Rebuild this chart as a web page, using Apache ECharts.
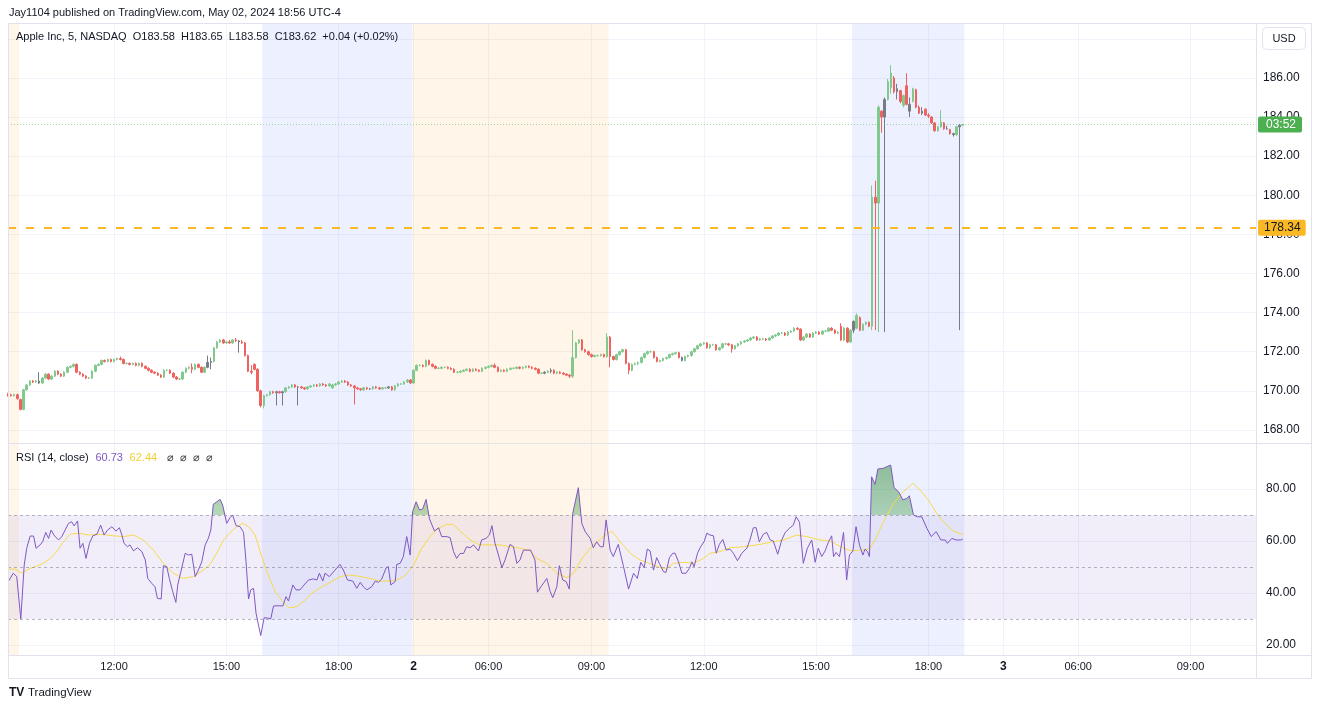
<!DOCTYPE html>
<html><head><meta charset="utf-8">
<script src="https://cdn.jsdelivr.net/npm/echarts@6/dist/echarts.min.js"></script>
<style>html,body{margin:0;padding:0;background:#fff;}#c{width:1320px;height:708px;}</style>
</head><body><div id="c"></div>
<script>
// ---- data (5-minute bars, index-based time axis) ----
// candle rows: [open, close, low, high]
const candles = [
[169.85,169.8,169.7,169.9],[169.8,169.75,169.7,169.85],[169.75,169.8,169.7,169.85],[169.8,169.6,169.55,169.85],[169.55,169.05,169.0,169.6],
[169.05,170.05,169.0,170.1],[170.05,170.3,170.0,170.35],[170.3,170.5,170.25,170.55],[170.5,170.45,170.4,170.55],[170.45,170.5,170.4,170.55],
[170.5,170.4,170.35,170.95],[170.4,170.65,170.35,170.7],[170.65,170.85,170.6,170.9],[170.85,170.6,170.55,170.9],[170.6,170.75,170.55,170.8],
[170.75,171.0,170.7,171.05],[171.0,170.85,170.8,171.05],[170.85,170.75,170.7,170.9],[170.75,170.95,170.7,171.0],[170.95,171.2,170.9,171.25],
[171.2,171.25,171.15,171.3],[171.25,171.35,171.2,171.4],[171.35,170.95,170.9,171.4],[170.95,170.85,170.8,171.0],[170.85,170.75,170.7,170.9],
[170.75,170.65,170.6,170.8],[170.65,170.65,170.6,170.7],[170.65,171.0,170.6,171.05],[171.0,171.3,170.95,171.35],[171.3,171.35,171.25,171.4],
[171.35,171.55,171.3,171.6],[171.55,171.5,171.45,171.6],[171.5,171.6,171.45,171.65],[171.6,171.5,171.45,171.65],[171.5,171.6,171.45,171.65],
[171.6,171.65,171.55,171.7],[171.65,171.6,171.55,171.75],[171.6,171.4,171.35,171.65],[171.4,171.4,171.35,171.45],[171.4,171.35,171.3,171.45],
[171.35,171.4,171.3,171.45],[171.4,171.3,171.25,171.45],[171.3,171.4,171.25,171.45],[171.4,171.25,171.2,171.45],[171.25,171.15,171.1,171.3],
[171.15,171.05,171.0,171.2],[171.05,170.95,170.9,171.1],[170.95,170.9,170.85,171.0],[170.9,170.8,170.75,170.95],[170.8,170.7,170.65,170.85],
[170.7,171.05,170.65,171.1],[171.05,171.05,171.0,171.1],[171.05,170.9,170.85,171.1],[170.9,170.7,170.65,170.95],[170.7,170.6,170.55,170.75],
[170.6,170.6,170.55,170.65],[170.6,170.95,170.55,171.0],[170.95,171.15,170.9,171.2],[171.15,171.2,171.1,171.25],[171.2,171.1,170.9,171.4],
[171.1,171.35,171.05,171.4],[171.35,171.2,171.15,171.4],[171.2,170.95,170.9,171.25],[170.95,171.2,170.9,171.25],[171.2,171.45,171.15,171.8],
[171.45,171.5,171.1,171.7],[171.5,172.2,171.45,172.25],[172.2,172.5,172.15,172.55],[172.5,172.6,172.45,172.65],[172.6,172.45,172.4,172.65],
[172.45,172.5,172.4,172.55],[172.5,172.45,172.4,172.6],[172.45,172.6,172.4,172.65],[172.6,172.55,172.5,172.7],[172.55,172.5,171.95,172.6],
[172.5,172.45,172.4,172.6],[172.45,171.8,171.75,172.5],[171.8,171.0,170.95,171.85],[171.0,170.95,170.85,171.3],[171.35,171.1,171.05,171.4],
[171.1,170.0,169.95,171.15],[170.0,169.25,169.15,170.05],[169.25,169.75,169.1,169.8],[169.75,169.8,169.7,169.85],[169.8,169.95,169.75,170.0],
[169.95,169.9,169.85,170.0],[169.9,169.95,169.25,170.0],[169.95,169.9,169.85,170.0],[169.9,169.95,169.25,170.0],[169.95,170.15,169.9,170.2],
[170.15,170.2,170.1,170.25],[170.2,170.3,170.15,170.35],[170.3,170.2,170.15,170.35],[170.2,170.2,169.25,170.25],[170.2,170.15,170.1,170.25],
[170.15,170.1,170.05,170.2],[170.1,170.2,170.05,170.25],[170.2,170.25,170.15,170.3],[170.25,170.3,170.2,170.35],[170.3,170.25,170.2,170.35],
[170.25,170.35,170.2,170.4],[170.35,170.3,170.25,170.4],[170.3,170.25,170.2,170.35],[170.25,170.35,170.2,170.4],[170.15,170.3,170.1,170.35],
[170.3,170.35,170.25,170.4],[170.35,170.45,170.3,170.5],[170.45,170.5,170.4,170.55],[170.5,170.45,170.4,170.55],[170.45,170.3,170.25,170.5],
[170.3,170.25,170.2,170.35],[170.25,170.15,169.3,170.3],[170.15,170.1,170.05,170.2],[170.1,170.05,170.0,170.15],[170.05,170.15,170.0,170.2],
[170.15,170.1,170.05,170.2],[170.1,170.1,170.05,170.15],[170.1,170.2,170.05,170.25],[170.2,170.15,170.1,170.25],[170.15,170.1,170.05,170.2],
[170.1,170.15,170.05,170.2],[170.15,170.15,170.1,170.2],[170.15,170.2,170.1,170.25],[170.2,170.05,170.0,170.25],[170.05,170.25,170.0,170.3],
[170.25,170.35,170.2,170.4],[170.35,170.35,170.3,170.4],[170.35,170.45,170.3,170.5],[170.45,170.55,170.4,170.6],[170.55,170.4,170.35,170.6],
[170.4,171.05,170.35,171.1],[171.05,171.3,171.0,171.35],[171.3,171.3,171.25,171.35],[171.3,171.25,171.2,171.35],[171.25,171.55,171.2,171.6],
[171.55,171.35,171.3,171.6],[171.35,171.25,171.2,171.4],[171.25,171.15,171.1,171.3],[171.15,171.15,171.1,171.2],[171.15,171.2,171.1,171.25],
[171.2,171.2,171.15,171.25],[171.2,171.15,171.1,171.25],[171.15,171.1,171.05,171.2],[171.1,170.95,170.9,171.15],[170.95,170.95,170.9,171.0],
[170.95,171.0,170.9,171.05],[171.0,171.05,170.95,171.1],[171.05,171.1,171.0,171.15],[171.1,171.0,170.95,171.15],[171.0,171.1,170.95,171.15],
[171.1,171.05,171.0,171.15],[171.05,171.0,170.95,171.1],[171.0,171.15,170.95,171.2],[171.15,171.2,171.1,171.25],[171.2,171.25,171.15,171.3],
[171.25,171.3,171.2,171.35],[171.3,171.2,171.15,171.4],[171.2,171.0,170.95,171.25],[171.0,171.05,170.95,171.1],[171.05,171.0,170.95,171.1],
[171.0,171.1,170.95,171.15],[171.1,171.15,171.05,171.2],[171.15,171.15,171.1,171.2],[171.15,171.2,171.1,171.25],[171.2,171.15,171.1,171.25],
[171.15,171.2,171.1,171.25],[171.2,171.25,171.15,171.3],[171.25,171.2,171.15,171.3],[171.2,171.15,171.1,171.25],[171.15,171.1,171.05,171.2],
[171.1,170.9,170.85,171.15],[170.9,170.9,170.85,170.95],[170.9,170.95,170.85,171.0],[170.95,171.0,170.9,171.05],[171.0,171.05,170.9,171.15],
[171.05,170.9,170.85,171.1],[170.9,170.95,170.85,171.0],[170.95,170.9,170.85,171.0],[170.9,170.85,170.8,170.95],[170.85,170.8,170.75,170.9],
[170.8,170.75,170.65,170.85],[170.75,171.7,170.65,173.1],[171.7,172.45,171.65,172.5],[172.45,172.6,172.4,172.65],[172.6,172.1,172.05,172.65],
[172.1,172.0,171.95,172.15],[172.0,171.85,171.8,172.05],[171.85,171.75,171.7,171.9],[171.75,171.8,171.7,171.85],[171.8,171.8,171.75,171.85],
[171.8,171.85,171.75,171.9],[171.85,171.75,171.7,171.9],[171.75,172.75,171.7,172.95],[172.75,171.75,171.2,172.8],[171.75,171.6,171.55,171.8],
[171.6,171.85,171.55,171.9],[171.85,172.0,171.8,172.05],[172.0,172.1,171.95,172.15],[172.1,171.4,171.35,172.15],[171.4,171.05,170.85,171.45],
[171.05,171.35,171.0,171.4],[171.35,171.4,171.3,171.45],[171.4,171.45,171.3,171.5],[171.45,171.7,171.4,171.75],[171.7,171.9,171.65,171.95],
[171.9,172.0,171.85,172.05],[172.0,172.0,171.95,172.05],[172.0,171.7,171.65,172.05],[171.7,171.5,171.45,171.75],[171.5,171.55,171.45,171.6],
[171.55,171.65,171.5,171.7],[171.65,171.7,171.6,171.75],[171.7,171.85,171.65,171.9],[171.85,171.9,171.8,171.95],[171.9,171.95,171.85,172.0],
[171.95,171.7,171.65,172.0],[171.7,171.55,171.5,171.75],[171.55,171.75,171.5,171.8],[171.75,171.8,171.7,171.85],[171.8,172.0,171.75,172.05],
[172.0,172.15,171.95,172.2],[172.15,172.3,172.1,172.35],[172.3,172.4,172.25,172.45],[172.4,172.45,172.35,172.5],[172.45,172.2,172.15,172.5],
[172.2,172.35,172.15,172.4],[172.35,172.35,172.3,172.4],[172.35,172.1,172.05,172.4],[172.1,172.2,172.05,172.25],[172.2,172.4,172.15,172.45],
[172.4,172.4,172.35,172.45],[172.4,172.35,172.3,172.45],[172.35,172.15,171.95,172.4],[172.15,172.3,172.1,172.35],[172.3,172.4,172.25,172.45],
[172.4,172.5,172.35,172.55],[172.5,172.55,172.45,172.6],[172.55,172.6,172.5,172.65],[172.6,172.7,172.55,172.75],[172.7,172.75,172.65,172.8],
[172.75,172.6,172.55,172.8],[172.6,172.65,172.55,172.7],[172.65,172.65,172.6,172.7],[172.65,172.6,172.55,172.7],[172.6,172.7,172.55,172.75],
[172.7,172.8,172.65,172.85],[172.8,172.85,172.75,172.9],[172.85,172.95,172.8,173.0],[172.95,172.95,172.9,173.0],[172.95,172.85,172.8,173.0],
[172.85,173.0,172.8,173.05],[173.0,173.05,172.95,173.1],[173.05,173.2,173.0,173.25],[173.2,173.15,173.1,173.25],[173.15,172.6,172.55,173.2],
[172.6,172.75,172.55,172.8],[172.75,172.9,172.7,172.95],[172.9,172.75,172.7,172.95],[172.75,172.95,172.7,173.0],[172.95,173.0,172.9,173.05],
[173.0,172.9,172.85,173.05],[172.9,173.05,172.85,173.1],[173.05,173.05,173.0,173.1],[173.05,173.2,173.0,173.25],[173.2,173.1,173.05,173.25],
[173.1,172.95,172.9,173.15],[172.95,173.0,172.9,173.05],[173.3,172.6,172.55,173.45],[172.6,173.2,172.55,173.25],[173.2,172.5,172.45,173.25],
[172.5,173.1,172.45,173.15],[173.1,173.55,172.95,173.6],[173.2,173.85,173.15,173.96],[173.75,173.1,173.05,173.8],[173.1,173.4,173.05,173.45],
[173.4,173.5,173.35,173.55],[173.5,173.3,173.25,173.55],[173.3,179.9,173.1,180.5],[179.9,179.6,173.1,180.75],[179.6,184.5,173.0,184.6],
[184.3,184.0,183.2,184.35],[184.0,184.9,173.0,185.0],[184.9,185.8,184.85,185.95],[185.5,186.25,185.2,186.65],[186.0,185.3,185.2,186.1],
[185.3,185.45,184.9,185.7],[185.35,184.8,184.7,185.4],[184.6,185.1,184.5,185.15],[185.6,184.65,184.6,186.24],[184.65,184.3,184.0,185.0],
[184.8,185.45,184.75,185.5],[185.4,184.5,184.45,185.45],[184.5,184.2,184.15,184.6],[184.2,184.3,184.1,184.5],[184.4,184.1,184.05,184.45],
[184.1,184.05,183.95,184.2],[184.0,183.7,183.65,184.05],[183.7,183.3,183.25,183.75],[183.3,183.5,183.25,183.55],[183.5,183.75,183.45,184.35],
[183.7,183.4,183.35,183.75],[183.4,183.4,183.35,183.55],[183.35,183.15,183.1,183.4],[183.15,183.1,183.0,183.2],[183.1,183.5,183.05,183.55],
[183.5,183.58,173.1,183.65],[183.58,183.62,183.58,183.65]
];
const grayBars = [10,64,65,74,86,88,93,116,122,172,174,216,271,281,285,289,293,301,303,305];

// RSI(14) readings: [bar index, value]
const rsiPoints = [
[0.1,44.4],[1.7,47.6],[2.8,46.3],[4.1,30.0],[5.2,50.8],[6,57.2],[7.1,61.9],[8.2,61.9],[9,57.2],[10.3,58.5],[11.1,59.7],[12.1,63.3],[13,61.0],[13.8,64.2],[14.9,62.0],[16.2,60.4],[17.2,61.6],[18.3,64.2],[19.4,66.8],[20.4,67.4],[21.2,65.8],[22.3,67.7],[23.1,57.2],[24,59.1],[25,53.3],[26.1,59.1],[27.2,62.0],[28.5,62.6],[29.7,66.1],[30.8,62.3],[31.9,64.2],[33.3,65.5],[34.6,63.8],[35.7,65.1],[36.5,62.3],[37.2,59.1],[38.3,57.8],[39.1,58.5],[40.2,56.2],[41.5,57.4],[42.9,55.9],[44,52.7],[44.8,45.6],[46.1,43.7],[47.1,42.4],[47.9,37.9],[49.1,37.7],[49.8,50.5],[50.9,50.1],[51.7,45.6],[52.8,40.5],[53.8,36.4],[54.4,43.1],[55.4,48.2],[56.8,55.3],[57.8,54.6],[58.9,54.9],[60,46.3],[61,48.8],[62.1,52.0],[63.2,58.5],[64.2,61.0],[65,64.2],[65.8,74.1],[66.7,74.9],[68,76.0],[68.8,73.8],[70.1,66.8],[71.2,69.0],[72,70.0],[73.1,65.9],[74.4,65.5],[75.5,63.3],[76.3,52.0],[77.1,37.7],[77.8,41.2],[78.7,41.8],[79.5,32.2],[81,23.6],[82.1,30.5],[83.5,30.3],[84.2,30.0],[85.1,35.0],[86.7,35.1],[88.1,35.0],[89.1,38.6],[89.9,36.9],[91.3,43.1],[92.3,41.2],[93.6,41.2],[94.9,43.1],[96.3,45.0],[97.9,45.4],[99,45.0],[99.8,47.6],[100.9,44.6],[101.6,47.6],[103,46.3],[104.8,48.8],[106.4,51.0],[107.5,48.8],[108.8,45.0],[110.5,44.6],[111.8,41.8],[112.9,44.1],[113.9,42.4],[115,41.2],[116.6,42.4],[117.7,44.6],[118.7,44.1],[119.8,45.4],[121.2,49.7],[121.9,50.1],[122.7,43.1],[124.1,44.4],[124.6,51.0],[125.7,51.4],[126.7,54.0],[127.8,61.7],[128.9,54.6],[129.7,71.3],[130.8,75.1],[131.9,71.9],[132.9,72.3],[134,76.0],[135.1,68.5],[136.7,63.8],[138,65.1],[139,61.7],[140.6,61.7],[141.7,61.3],[142.8,55.9],[143.8,53.3],[144.9,55.2],[146,55.2],[147,57.8],[148.1,57.4],[149.2,58.5],[150.8,56.2],[151.8,60.4],[153.2,61.0],[154.3,62.3],[155.1,65.9],[156.1,59.1],[157.2,54.6],[158.3,49.7],[159.3,52.7],[160.9,58.7],[162,57.8],[163.1,51.4],[164.1,52.7],[165.2,56.5],[166.3,56.5],[167.5,56.5],[168.9,52.7],[169.7,40.3],[170.8,42.4],[172.7,45.6],[173.8,40.5],[174.6,38.2],[175.9,42.4],[176.7,50.5],[177.8,45.0],[178.9,44.4],[179.9,41.5],[181,70.6],[182.8,80.5],[183.9,66.8],[185,63.6],[186.6,61.0],[187.6,57.4],[188.7,59.7],[189.8,57.8],[190.8,57.8],[191.7,68.1],[193,56.5],[194,54.0],[195.6,58.7],[197.3,50.1],[198.9,41.5],[200.5,47.6],[201.7,45.6],[202.8,51.8],[203.9,49.7],[204.9,56.9],[205.8,56.2],[206.9,48.8],[207.9,53.6],[209,50.8],[210.1,48.2],[210.9,47.9],[212,53.6],[213.1,55.3],[213.8,55.3],[214.9,52.0],[216,47.6],[217.3,47.6],[218.4,49.5],[219.2,52.0],[219.9,50.1],[221,55.3],[222,57.8],[223.1,59.7],[224,63.0],[225,62.3],[226.1,62.0],[227,55.3],[228,58.7],[229.1,60.6],[230.2,56.5],[231.4,56.9],[232.5,55.3],[233.8,52.4],[235.2,55.3],[236.8,57.2],[237.8,60.4],[238.9,65.1],[239.8,65.1],[240.8,59.7],[242.1,62.6],[243.2,63.3],[244.3,60.4],[245.3,60.0],[246.7,54.9],[248,60.4],[249.1,63.3],[250.5,64.9],[251.7,66.1],[252.6,69.3],[253.7,67.2],[254.9,51.4],[256.2,57.2],[257.6,60.4],[258.7,51.8],[259.7,57.2],[260.8,54.0],[261.9,56.2],[263,59.7],[264,62.0],[264.6,54.0],[265.4,55.6],[266.5,54.0],[267.8,63.3],[268.8,45.0],[269.7,54.6],[270.8,56.2],[271.8,65.5],[272.9,58.5],[274,54.6],[274.7,56.9],[275.5,55.9],[276.1,54.0],[276.8,84.7],[277.9,81.8],[278.8,87.7],[280.4,87.9],[281.7,88.6],[282.9,89.2],[284,80.5],[285.4,79.0],[286.8,75.8],[288.1,76.4],[288.9,77.4],[290.2,70.0],[291.5,69.3],[292.9,69.3],[294.5,64.9],[295.9,61.7],[297.5,63.6],[299,60.4],[300.4,60.4],[301.1,59.1],[302.5,61.0],[303.9,60.4],[305.4,60.4],[306,60.73]
];
// RSI-based moving average readings: [bar index, value]
const rsiMaPoints = [
[0.1,49.2],[2.3,49.2],[4.4,47.6],[7.1,49.5],[10.3,50.8],[13,52.7],[15.6,55.9],[17.8,59.7],[19.9,62.6],[22.6,63.0],[25.8,62.3],[29.5,62.6],[33.8,62.0],[37,61.7],[40.2,62.3],[43.4,60.4],[46.6,56.5],[49.8,51.4],[53,47.6],[56.2,45.6],[59.4,46.3],[62.6,48.8],[64.8,51.0],[66.9,55.3],[69.1,60.4],[71.2,63.3],[73.3,65.5],[75.2,66.8],[77.1,65.5],[79.2,62.3],[80.8,55.9],[83,48.2],[85.6,40.5],[87.7,37.3],[89.9,34.3],[92.6,34.7],[94.7,36.7],[97.4,39.9],[100.6,42.4],[103.8,44.4],[106.4,46.3],[109.1,46.9],[112.3,46.5],[116.1,45.6],[119.3,44.6],[122.5,44.6],[124.6,45.0],[127.3,46.7],[130,50.8],[132.6,57.2],[135.3,61.7],[137.4,64.4],[140.6,66.4],[142.8,66.4],[144.9,63.8],[148.1,60.4],[151.3,58.5],[154.5,58.5],[157.7,58.5],[160.9,57.8],[164.1,57.2],[167.3,56.2],[169.5,53.3],[172.7,51.4],[175.9,47.6],[179.1,45.9],[181.2,47.6],[184.4,54.0],[187.6,58.5],[190.8,61.7],[193.5,63.8],[196.2,59.7],[199.4,55.3],[202.6,52.7],[206.9,50.8],[210.6,49.2],[213.3,51.4],[216.5,51.8],[219.7,51.4],[222.9,53.3],[225,55.3],[228.2,55.9],[231.4,57.4],[235.7,57.8],[240,58.5],[244.3,59.5],[248.5,60.4],[252.8,62.3],[256,61.7],[260.3,60.4],[263.5,60.0],[267.8,57.2],[270.4,56.2],[273.6,56.5],[276.1,56.9],[277.9,60.4],[280.6,67.4],[283.8,74.5],[287,79.0],[290,82.2],[292.3,79.6],[295,75.8],[297.7,70.6],[300.3,66.8],[303,63.8],[306,62.44]
];

const timeTicks = [[34,'12:00'],[70,'15:00'],[106,'18:00'],[130,'2'],[154,'06:00'],[187,'09:00'],[223,'12:00'],[259,'15:00'],[295,'18:00'],[319,'3'],[343,'06:00'],[379,'09:00']];
const priceTicks = [168,170,172,174,176,178,180,182,184,186,188];
const priceLabels = [168,170,172,174,176,178,180,182,184,186];
const rsiTicks = [20,40,60,80];
const rsiLevels = [70,50,30];
const preMarket = [[0,3.5],[129.5,192.5]];
const postMarket = [[81.5,129.5],[270.5,306.5]];
const alertPrice = 178.34;
const lastPrice = 183.62;
const barCount = 401;

// ---- chart ----
const FONT = '"Liberation Sans", Arial, sans-serif';
const TXT = '#131722';
const GRIDC = '#f0f3fa';
const FRAME = '#e0e3eb';
const GRAY = '#787b86';
const UP = '#82c98e', DOWN = '#f0625f';
const categories = Array.from({length: barCount}, (_, i) => String(i));
const tickMap = new Map(timeTicks);
const graySet = new Set(grayBars);
const candleData = candles.map((c, i) => graySet.has(i)
  ? {value: c, itemStyle: {color: GRAY, color0: GRAY, borderColor: GRAY, borderColor0: GRAY}} : c);

const shadeAreas = [
  ...preMarket.map(([a, b]) => [{xAxis: a, itemStyle: {color: 'rgba(255,152,0,0.085)'}}, {xAxis: b}]),
  ...postMarket.map(([a, b]) => [{xAxis: a, itemStyle: {color: 'rgba(41,98,255,0.085)'}}, {xAxis: b}])
];

const catAxis = (grid, labels) => ({
  type: 'category', gridIndex: grid, data: categories, boundaryGap: false,
  axisLine: {show: false}, axisTick: {show: false},
  axisLabel: labels ? {
    interval: (i) => tickMap.has(i), margin: 6, color: TXT, fontSize: 11, fontFamily: FONT,
    formatter: (v) => { const t = tickMap.get(Number(v)) || ''; return /^\d$/.test(t) ? '{b|' + t + '}' : t; },
    rich: {b: {fontWeight: 'bold', color: TXT, fontSize: 12, fontFamily: FONT}}
  } : {show: false},
  splitLine: {show: true, interval: (i) => tickMap.has(i), lineStyle: {color: GRIDC, width: 1}}
});
const valAxis = (grid) => ({type: 'value', gridIndex: grid, min: 0, max: barCount - 1, show: false});

const option = {
  animation: false,
  textStyle: {fontFamily: FONT},
  grid: [
    {left: 8, right: 64, top: 23, height: 420},
    {left: 8, right: 64, top: 444, height: 211},
    {left: 8, right: 64, top: 444, height: 71}
  ],
  xAxis: [catAxis(0, false), valAxis(0), catAxis(1, true), valAxis(1), valAxis(2)],
  yAxis: [
    {type: 'value', gridIndex: 0, position: 'right', min: 167.33, max: 188.81, scale: true,
      axisLine: {show: false}, axisTick: {show: false, customValues: priceTicks},
      axisLabel: {customValues: priceLabels, formatter: (v) => v.toFixed(2), color: TXT, fontSize: 12, margin: 7, fontFamily: FONT},
      splitLine: {show: true, lineStyle: {color: GRIDC}}},
    {type: 'value', gridIndex: 1, position: 'right', min: 16.15, max: 97.31,
      axisLine: {show: false}, axisTick: {show: false, customValues: rsiTicks},
      axisLabel: {customValues: rsiTicks, formatter: (v) => v.toFixed(2), color: TXT, fontSize: 12, margin: 10, fontFamily: FONT},
      splitLine: {show: true, lineStyle: {color: GRIDC}}},
    {type: 'value', gridIndex: 2, min: 70, max: 97.31, show: false}
  ],
  series: [
    {type: 'line', xAxisIndex: 1, yAxisIndex: 0, data: [], silent: true, z: 0,
      markArea: {silent: true, data: shadeAreas}},
    {type: 'line', xAxisIndex: 3, yAxisIndex: 1, data: [], silent: true, z: 0,
      markArea: {silent: true, data: shadeAreas}},
    {type: 'line', xAxisIndex: 3, yAxisIndex: 1, data: [], silent: true, z: 1,
      markArea: {silent: true, itemStyle: {color: 'rgba(126,87,194,0.1)'}, data: [[{yAxis: 30}, {yAxis: 70}]]},
      markLine: {silent: true, symbol: ['none', 'none'], label: {show: false},
        lineStyle: {color: 'rgba(120,123,134,0.55)', type: [3, 3], width: 1},
        data: rsiLevels.map(v => ({yAxis: v}))}},
    {type: 'candlestick', xAxisIndex: 0, yAxisIndex: 0, data: candleData, barWidth: 2, z: 3,
      itemStyle: {color: UP, color0: DOWN, borderColor: UP, borderColor0: DOWN, borderWidth: 1},
      markLine: {silent: true, symbol: ['none', 'none'], precision: 2,
        data: [
          {yAxis: alertPrice, lineStyle: {color: '#f9b824', type: [8, 10], width: 2},
            label: {position: 'end', distance: 2, formatter: alertPrice.toFixed(2), color: TXT, backgroundColor: '#f9b824',
              padding: [2, 5, 2, 6], borderRadius: 2, fontSize: 12, fontFamily: FONT}},
          {yAxis: lastPrice, lineStyle: {color: 'rgba(76,175,80,0.5)', type: [1, 2], width: 1},
            label: {position: 'end', distance: 2, formatter: '03:52', color: '#ffffff', backgroundColor: '#4caf50',
              padding: [2, 6, 2, 8], borderRadius: 2, fontSize: 12, fontFamily: FONT}}
        ]}},
    {type: 'line', xAxisIndex: 4, yAxisIndex: 2, data: rsiPoints, showSymbol: false, silent: true, z: 2,
      lineStyle: {width: 0, opacity: 0},
      areaStyle: {origin: 'start', color: new echarts.graphic.LinearGradient(0, 0, 0, 1, [
        {offset: 0, color: 'rgba(56,142,60,0.75)'}, {offset: 1, color: 'rgba(76,175,80,0.02)'}])}},
    {type: 'line', xAxisIndex: 3, yAxisIndex: 1, data: rsiMaPoints, showSymbol: false, silent: true, z: 4,
      lineStyle: {color: '#f7d94c', width: 1}},
    {type: 'line', xAxisIndex: 3, yAxisIndex: 1, data: rsiPoints, showSymbol: false, silent: true, z: 5,
      lineStyle: {color: '#7e57c2', width: 1}}
  ],
  graphic: [
    {type: 'text', x: 9, y: 13, z: 100, style: {text: 'Jay1104 published on TradingView.com, May 02, 2024 18:56 UTC-4', fill: TXT, font: '11px ' + FONT, verticalAlign: 'middle'}},
    {type: 'text', x: 16, y: 37, z: 100, style: {text: 'Apple Inc, 5, NASDAQ  O183.58  H183.65  L183.58  C183.62  +0.04 (+0.02%)', fill: TXT, font: '11px ' + FONT, verticalAlign: 'middle'}},
    {type: 'text', x: 16, y: 458, z: 100, style: {text: '{a|RSI (14, close)}  {p|60.73}  {y|62.44}   {g|⌀  ⌀  ⌀  ⌀}', verticalAlign: 'middle',
      rich: {a: {fill: TXT, font: '11px ' + FONT}, p: {fill: '#7e57c2', font: '11px ' + FONT}, y: {fill: '#f0d030', font: '11px ' + FONT}, g: {fill: '#333', font: '11px ' + FONT}}}},
    {type: 'rect', z: 100, shape: {x: 1262.5, y: 27.5, width: 43, height: 22, r: 4}, style: {fill: '#fff', stroke: FRAME, lineWidth: 1}},
    {type: 'text', z: 101, x: 1284, y: 38.5, style: {text: 'USD', fill: TXT, font: '11px ' + FONT, align: 'center', verticalAlign: 'middle'}},
    {type: 'line', z: 100, shape: {x1: 8, y1: 23.5, x2: 1311, y2: 23.5}, style: {stroke: FRAME, lineWidth: 1}},
    {type: 'line', z: 100, shape: {x1: 8, y1: 443.5, x2: 1311, y2: 443.5}, style: {stroke: FRAME, lineWidth: 1}},
    {type: 'line', z: 100, shape: {x1: 8, y1: 655.5, x2: 1311, y2: 655.5}, style: {stroke: FRAME, lineWidth: 1}},
    {type: 'line', z: 100, shape: {x1: 8, y1: 678.5, x2: 1311, y2: 678.5}, style: {stroke: FRAME, lineWidth: 1}},
    {type: 'line', z: 100, shape: {x1: 8.5, y1: 23, x2: 8.5, y2: 679}, style: {stroke: FRAME, lineWidth: 1}},
    {type: 'line', z: 100, shape: {x1: 1256.5, y1: 23, x2: 1256.5, y2: 679}, style: {stroke: FRAME, lineWidth: 1}},
    {type: 'line', z: 100, shape: {x1: 1311.5, y1: 23, x2: 1311.5, y2: 679}, style: {stroke: FRAME, lineWidth: 1}},
    {type: 'text', z: 100, x: 9, y: 693, style: {text: 'TV', fill: '#131722', font: '900 12px ' + FONT, verticalAlign: 'middle'}},
    {type: 'text', z: 100, x: 28, y: 693, style: {text: 'TradingView', fill: '#131722', font: '500 11.5px ' + FONT, verticalAlign: 'middle'}}
  ]
};
const chart = echarts.init(document.getElementById('c'), null, {renderer: 'canvas', devicePixelRatio: 1});
chart.setOption(option);
</script>
</body></html>
